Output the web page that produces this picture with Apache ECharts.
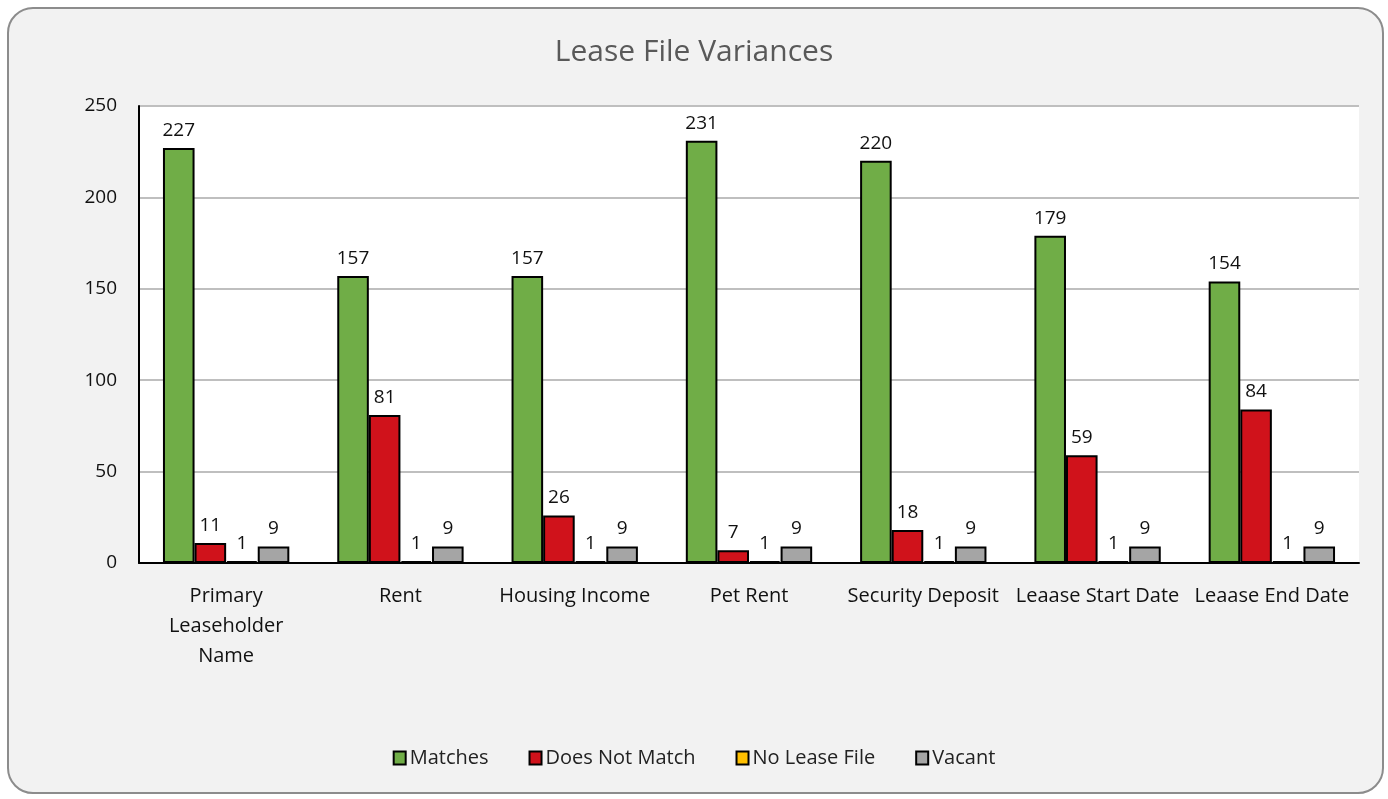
<!DOCTYPE html>
<html>
<head>
<meta charset="utf-8">
<script src="https://cdn.jsdelivr.net/npm/echarts@6/dist/echarts.min.js"></script>
<style>
html, body { margin: 0; padding: 0; background: #ffffff; }
#frame {
    position: absolute; left: 7px; top: 7px; width: 1377px; height: 787px;
    box-sizing: border-box; border: 2px solid #8c8c8c; border-radius: 26px;
    background: #f2f2f2; overflow: hidden;
}
#chart { position: absolute; left: -9px; top: -9px; width: 1388px; height: 799px; }
</style>
</head>
<body>
<div id="frame"><div id="chart"></div></div>
<script>
// 数据
var categories = ['Primary Leaseholder Name', 'Rent', 'Housing Income', 'Pet Rent', 'Security Deposit', 'Leaase Start Date', 'Leaase End Date'];
var matches = [227, 157, 157, 231, 220, 179, 154];
var doesNotMatch = [11, 81, 26, 7, 18, 59, 84];
var noLeaseFile = [1, 1, 1, 1, 1, 1, 1];
var vacant = [9, 9, 9, 9, 9, 9, 9];
var yTicks = [0, 50, 100, 150, 200, 250];

var FONT = '"Open Sans", "Liberation Sans", sans-serif';

var myChart = echarts.init(document.getElementById('chart'));

var mkSeries = function(name, data, color){
    return {
        name: name,
        type: 'bar',
        data: data,
        barGap: '0%',
        barCategoryGap: '27.5%',
        itemStyle: { color: color, borderColor: '#000', borderWidth: 2 },
        label: {
            show: true, position: 'top', distance: 8,
            color: '#111', fontSize: 19, fontFamily: FONT
        }
    };
};

var option = {
    animation: false,
    title: {
        text: 'Lease File Variances', left: 'center', top: 32,
        textStyle: { color: '#595959', fontSize: 30, fontWeight: 'normal', fontFamily: FONT }
    },
    legend: {
        bottom: 26, left: 'center', itemGap: 40, itemWidth: 12, itemHeight: 13,
        icon: 'rect',
        textStyle: { color: '#222', fontSize: 20, fontFamily: FONT, padding: [0, 0, 0, -1] },
        itemStyle: { borderColor: '#000', borderWidth: 2 }
    },
    grid: {
        left: 139, right: 29, top: 106, bottom: 236,
        show: true, backgroundColor: '#fff', borderWidth: 0
    },
    xAxis: {
        type: 'category', data: categories,
        axisLine: { lineStyle: { color: '#000', width: 2 } },
        axisTick: { show: false },
        axisLabel: {
            color: '#111', fontSize: 20, fontFamily: FONT, margin: 18, lineHeight: 30,
            interval: 0,
            formatter: function(v){ return v === 'Primary Leaseholder Name' ? 'Primary\nLeaseholder\nName' : v; }
        }
    },
    yAxis: {
        type: 'value', min: yTicks[0], max: yTicks[yTicks.length - 1], interval: 50,
        axisLine: { show: true, lineStyle: { color: '#000', width: 2 } },
        axisTick: { show: false },
        axisLabel: { color: '#111', fontSize: 19, fontFamily: FONT, margin: 22 },
        splitLine: { lineStyle: { color: '#bfbfbf', width: 2 } }
    },
    series: [
        mkSeries('Matches', matches, '#70ad47'),
        mkSeries('Does Not Match', doesNotMatch, '#d0121b'),
        mkSeries('No Lease File', noLeaseFile, '#ffc000'),
        mkSeries('Vacant', vacant, '#a5a5a5')
    ]
};
myChart.setOption(option);
</script>
</body>
</html>
